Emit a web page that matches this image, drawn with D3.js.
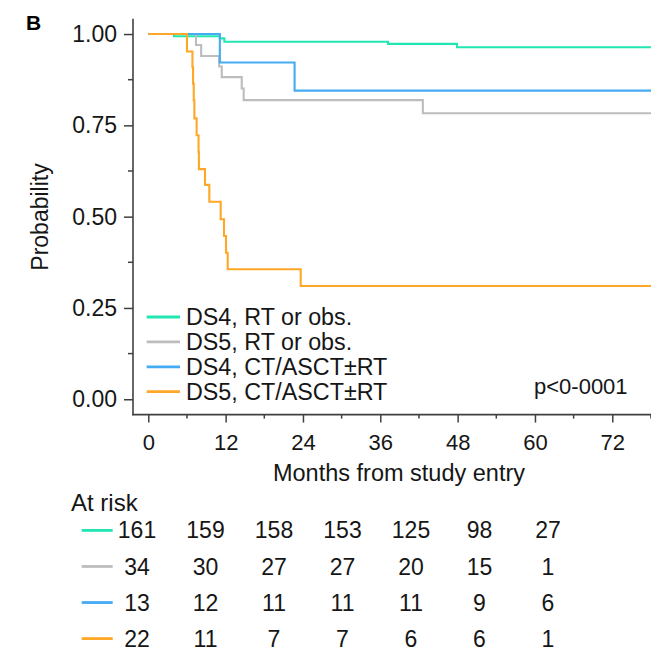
<!DOCTYPE html>
<html>
<head>
<meta charset="utf-8">
<script src="https://cdn.jsdelivr.net/npm/d3@7"></script>
<style>
  html, body { margin: 0; padding: 0; background: #fff; }
  svg { display: block; font-family: "Liberation Sans", Arial, Helvetica, sans-serif; }
</style>
</head>
<body>
<svg id="chart" width="651" height="648"></svg>
<script>
// ---- data ----
const groupNames = ["DS4, RT or obs.", "DS5, RT or obs.", "DS4, CT/ASCT\u00b1RT", "DS5, CT/ASCT\u00b1RT"];
const groupColors = ["#22e6b2", "#bdbdbd", "#45abf3", "#ffa726"];

// Kaplan-Meier steps: event times (months) and survival after each step
const ds4RtTimes = [0, 4.0, 11.1, 11.8, 37.2, 47.9];
const ds4RtSurv  = [1, 0.994, 0.988, 0.979, 0.973, 0.964];

const ds5RtTimes = [0, 7.4, 8.2, 11.0, 11.4, 14.5, 14.8, 42.6];
const ds5RtSurv  = [1, 0.970, 0.940, 0.911, 0.882, 0.851, 0.819, 0.783];

const ds4CtTimes = [0, 11.1, 22.7];
const ds4CtSurv  = [1, 0.922, 0.845];

const ds5CtTimes = [0, 6.0, 6.85, 6.95, 7.05, 7.15, 7.5, 7.8, 7.85, 8.8, 9.47, 11.23, 11.75, 12.06, 12.32, 23.65];
const ds5CtSurv  = [1, 0.952, 0.909, 0.864, 0.818, 0.769, 0.723, 0.677, 0.630, 0.587, 0.541, 0.493, 0.447, 0.401, 0.356, 0.310];

const followUpEnd = 84;

const timeTicks = [0, 12, 24, 36, 48, 60, 72];
const timeMinorTicks = [6, 18, 30, 42, 54, 66, 78];
const probTicks = [0, 0.25, 0.5, 0.75, 1];
const probMinorTicks = [0.125, 0.375, 0.625, 0.875];

const atRiskDs4Rt = [161, 159, 158, 153, 125, 98, 27];
const atRiskDs5Rt = [34, 30, 27, 27, 20, 15, 1];
const atRiskDs4Ct = [13, 12, 11, 11, 11, 9, 6];
const atRiskDs5Ct = [22, 11, 7, 7, 6, 6, 1];

const pValueText = "p<0-0001";
const panelLetter = "B";

// ---- assemble series ----
const series = [
  { name: groupNames[0], color: groupColors[0], times: ds4RtTimes, surv: ds4RtSurv, risk: atRiskDs4Rt },
  { name: groupNames[1], color: groupColors[1], times: ds5RtTimes, surv: ds5RtSurv, risk: atRiskDs5Rt },
  { name: groupNames[2], color: groupColors[2], times: ds4CtTimes, surv: ds4CtSurv, risk: atRiskDs4Ct },
  { name: groupNames[3], color: groupColors[3], times: ds5CtTimes, surv: ds5CtSurv, risk: atRiskDs5Ct }
];

// ---- layout ----
const W = 651, H = 648;
const panel = { left: 133, top: 18.7, bottom: 414.6 };
const ink = "#161616";
const axisInk = "#404040";
const fontStack = '"Liberation Sans", Arial, Helvetica, sans-serif';

const svg = d3.select("#chart");

const x = d3.scaleLinear().domain([0, 72]).range([148.3, 612.3]);
const y = d3.scaleLinear().domain([-0.042, 1.042]).range([panel.bottom, panel.top]);

// ---- survival curves ----
const line = d3.line()
  .x(d => x(d[0]))
  .y(d => y(d[1]))
  .curve(d3.curveStepAfter);

const curves = svg.append("g").attr("class", "curves");
series.forEach(s => {
  const pts = s.times.map((t, i) => [t, s.surv[i]]);
  pts.push([followUpEnd, s.surv[s.surv.length - 1]]);
  curves.append("path")
    .datum(pts)
    .attr("d", line)
    .attr("fill", "none")
    .attr("stroke", s.color)
    .attr("stroke-width", 2.1)
    .attr("stroke-linejoin", "miter");
});

// ---- y axis ----
const yAxis = d3.axisLeft(y)
  .tickValues(probTicks)
  .tickFormat(d3.format(".2f"))
  .tickSize(9)
  .tickPadding(7)
  .tickSizeOuter(0);
const gy = svg.append("g")
  .attr("transform", `translate(${panel.left},0)`)
  .call(yAxis)
  .attr("font-family", fontStack)
  .attr("font-size", 23);
gy.select(".domain").remove();
gy.selectAll(".tick line").attr("stroke", axisInk).attr("stroke-width", 1.5);
gy.selectAll(".tick text").attr("fill", ink);

svg.append("g").selectAll("line")
  .data(probMinorTicks).join("line")
  .attr("x1", panel.left - 5).attr("x2", panel.left)
  .attr("y1", d => y(d)).attr("y2", d => y(d))
  .attr("stroke", axisInk).attr("stroke-width", 1.5);

svg.append("line")
  .attr("x1", panel.left).attr("x2", panel.left)
  .attr("y1", panel.top).attr("y2", panel.bottom + 0.75)
  .attr("stroke", axisInk).attr("stroke-width", 1.6);

// ---- x axis ----
const xAxis = d3.axisBottom(x)
  .tickValues(timeTicks)
  .tickSize(8)
  .tickPadding(12)
  .tickSizeOuter(0);
const gx = svg.append("g")
  .attr("transform", `translate(0,${panel.bottom})`)
  .call(xAxis)
  .attr("font-family", fontStack)
  .attr("font-size", 22);
gx.select(".domain").remove();
gx.selectAll(".tick line").attr("stroke", axisInk).attr("stroke-width", 1.5);
gx.selectAll(".tick text").attr("fill", ink);

svg.append("g").selectAll("line")
  .data(timeMinorTicks).join("line")
  .attr("x1", d => x(d)).attr("x2", d => x(d))
  .attr("y1", panel.bottom).attr("y2", panel.bottom + 4)
  .attr("stroke", axisInk).attr("stroke-width", 1.5);

svg.append("line")
  .attr("x1", panel.left - 0.75).attr("x2", W)
  .attr("y1", panel.bottom).attr("y2", panel.bottom)
  .attr("stroke", axisInk).attr("stroke-width", 1.6);

// ---- axis titles ----
svg.append("text")
  .attr("x", 399).attr("y", 481)
  .attr("text-anchor", "middle")
  .attr("fill", ink)
  .style("font-size", "23.5px")
  .text("Months from study entry");

svg.append("text")
  .attr("transform", "translate(48,217) rotate(-90)")
  .attr("text-anchor", "middle")
  .attr("fill", ink)
  .style("font-size", "23px")
  .text("Probability");

svg.append("text")
  .attr("x", 26).attr("y", 30)
  .attr("fill", "#000")
  .style("font-size", "21px")
  .style("font-weight", "bold")
  .text(panelLetter);

// ---- legend ----
const legendY = d3.scalePoint().domain(groupNames).range([317, 391.7]);
const legend = svg.append("g");
series.forEach(s => {
  const ly = legendY(s.name);
  legend.append("line")
    .attr("x1", 146.7).attr("x2", 180)
    .attr("y1", ly).attr("y2", ly)
    .attr("stroke", s.color).attr("stroke-width", 2.8);
  legend.append("text")
    .attr("x", 186).attr("y", ly)
    .attr("dy", "0.36em")
    .attr("fill", ink)
    .style("font-size", "23.3px")
    .text(s.name);
});

svg.append("text")
  .attr("x", 534).attr("y", 386)
  .attr("dy", "0.36em")
  .attr("fill", ink)
  .style("font-size", "22px")
  .text(pValueText);

// ---- number at risk table ----
svg.append("text")
  .attr("x", 71).attr("y", 510.5)
  .attr("fill", ink)
  .style("font-size", "24px")
  .text("At risk");

const colX = d3.scaleLinear().domain([0, 72]).range([137, 548]);
const rowY = d3.scalePoint().domain(groupNames).range([530.4, 638.6]);
const table = svg.append("g");
series.forEach(s => {
  const ry = rowY(s.name);
  table.append("line")
    .attr("x1", 81.7).attr("x2", 112.7)
    .attr("y1", ry).attr("y2", ry)
    .attr("stroke", s.color).attr("stroke-width", 2.8);
  table.selectAll(null)
    .data(s.risk).join("text")
    .attr("x", (d, i) => colX(timeTicks[i]))
    .attr("y", ry)
    .attr("dy", "0.35em")
    .attr("text-anchor", "middle")
    .attr("fill", ink)
    .style("font-size", "23px")
    .text(d => d);
});
</script>
</body>
</html>
